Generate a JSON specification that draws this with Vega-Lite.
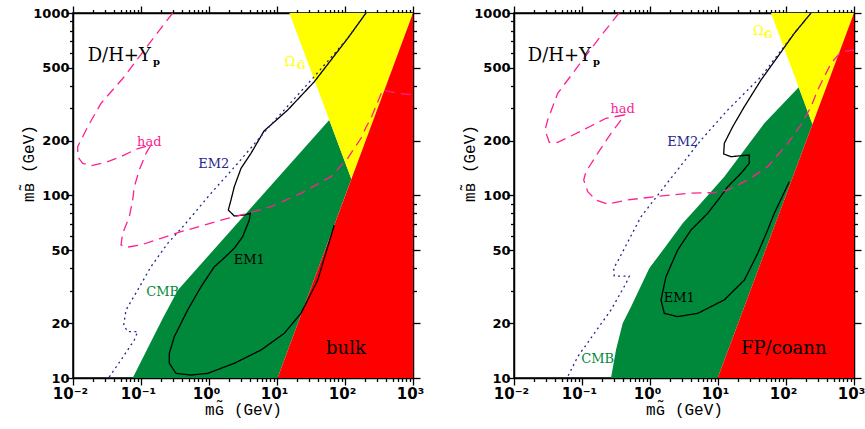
{
  "$schema": "https://vega.github.io/schema/vega-lite/v6.json",
  "background": "white",
  "padding": {"left": 20, "top": 4, "right": 0, "bottom": 0},
  "config": {
    "view": {"stroke": "black", "strokeWidth": 1.5},
    "axis": {
      "grid": false, "domainColor": "black", "domainWidth": 1.5, "zindex": 1,
      "tickColor": "black", "tickWidth": 1.3,
      "labelFont": "DejaVu Sans", "labelFontSize": 13, "labelFontWeight": "bold", "labelColor": "black",
      "labelOverlap": false, "labelFlush": false,
      "titleFont": "Liberation Mono", "titleFontSize": 16, "titleFontWeight": "normal", "titleColor": "black"
    }
  },
  "datasets": {
    "regions": [
      {"p":"L","r":"CMB","i":1,"x":0.0755,"y":10},
      {"p":"L","r":"CMB","i":2,"x":0.2085,"y":21.2},
      {"p":"L","r":"CMB","i":3,"x":0.347,"y":30.3},
      {"p":"L","r":"CMB","i":4,"x":58.7,"y":259},
      {"p":"L","r":"CMB","i":5,"x":124,"y":123},
      {"p":"L","r":"CMB","i":6,"x":10.2,"y":10},
      {"p":"L","r":"Omega","i":1,"x":15.2,"y":1000},
      {"p":"L","r":"Omega","i":2,"x":1000,"y":1000},
      {"p":"L","r":"Omega","i":3,"x":124,"y":123},
      {"p":"L","r":"bulk","i":1,"x":10.2,"y":10},
      {"p":"L","r":"bulk","i":2,"x":1000,"y":1000},
      {"p":"L","r":"bulk","i":3,"x":1000,"y":10},
      {"p":"R","r":"CMB","i":1,"x":0.267,"y":10},
      {"p":"R","r":"CMB","i":2,"x":0.316,"y":14.23},
      {"p":"R","r":"CMB","i":3,"x":0.397,"y":19.93},
      {"p":"R","r":"CMB","i":4,"x":0.526,"y":24.6},
      {"p":"R","r":"CMB","i":5,"x":0.977,"y":39.9},
      {"p":"R","r":"CMB","i":6,"x":1.623,"y":51.4},
      {"p":"R","r":"CMB","i":7,"x":3.03,"y":70.4},
      {"p":"R","r":"CMB","i":8,"x":5.03,"y":86.8},
      {"p":"R","r":"CMB","i":9,"x":12.38,"y":126.8},
      {"p":"R","r":"CMB","i":10,"x":48,"y":248.7},
      {"p":"R","r":"CMB","i":11,"x":153.8,"y":391.6},
      {"p":"R","r":"CMB","i":12,"x":245,"y":246},
      {"p":"R","r":"CMB","i":13,"x":9.9,"y":10},
      {"p":"R","r":"Omega","i":1,"x":60.2,"y":1000},
      {"p":"R","r":"Omega","i":2,"x":1000,"y":1000},
      {"p":"R","r":"Omega","i":3,"x":245,"y":246},
      {"p":"R","r":"FP/coann","i":1,"x":9.9,"y":10},
      {"p":"R","r":"FP/coann","i":2,"x":1000,"y":1000},
      {"p":"R","r":"FP/coann","i":3,"x":1000,"y":10}
    ],
    "curves": [
      {"p":"L","c":"EM1","i":1,"x":203.7,"y":1000},
      {"p":"L","c":"EM1","i":2,"x":109.6,"y":726.6},
      {"p":"L","c":"EM1","i":3,"x":35.4,"y":420.3},
      {"p":"L","c":"EM1","i":4,"x":14.36,"y":294},
      {"p":"L","c":"EM1","i":5,"x":6.44,"y":225.6},
      {"p":"L","c":"EM1","i":6,"x":4.146,"y":170.3},
      {"p":"L","c":"EM1","i":7,"x":2.956,"y":140.9},
      {"p":"L","c":"EM1","i":8,"x":2.355,"y":111.7},
      {"p":"L","c":"EM1","i":9,"x":2.106,"y":94.5},
      {"p":"L","c":"EM1","i":10,"x":1.923,"y":83.3},
      {"p":"L","c":"EM1","i":11,"x":2.355,"y":77.2},
      {"p":"L","c":"EM1","i":12,"x":3.304,"y":78.2},
      {"p":"L","c":"EM1","i":13,"x":4.05,"y":79.9},
      {"p":"L","c":"EM1","i":14,"x":3.915,"y":73.4},
      {"p":"L","c":"EM1","i":15,"x":3.13,"y":59.5},
      {"p":"L","c":"EM1","i":16,"x":2.355,"y":51.4},
      {"p":"L","c":"EM1","i":17,"x":1.591,"y":44.7},
      {"p":"L","c":"EM1","i":18,"x":1.197,"y":40.7},
      {"p":"L","c":"EM1","i":19,"x":0.762,"y":31.6},
      {"p":"L","c":"EM1","i":20,"x":0.486,"y":23.6},
      {"p":"L","c":"EM1","i":21,"x":0.309,"y":16.84},
      {"p":"L","c":"EM1","i":22,"x":0.2606,"y":13.65},
      {"p":"L","c":"EM1","i":23,"x":0.2606,"y":12.04},
      {"p":"L","c":"EM1","i":24,"x":0.327,"y":10.6},
      {"p":"L","c":"EM1","i":25,"x":0.543,"y":10.38},
      {"p":"L","c":"EM1","i":26,"x":0.957,"y":10.6},
      {"p":"L","c":"EM1","i":27,"x":2.355,"y":12.04},
      {"p":"L","c":"EM1","i":28,"x":5.817,"y":14.23},
      {"p":"L","c":"EM1","i":29,"x":12.8,"y":17.58},
      {"p":"L","c":"EM1","i":30,"x":22.5,"y":22.6},
      {"p":"L","c":"EM1","i":31,"x":39.7,"y":34.4},
      {"p":"L","c":"EM1","i":32,"x":69.6,"y":68.9},
      {"p":"L","c":"EM2","i":1,"x":203.7,"y":1000},
      {"p":"L","c":"EM2","i":2,"x":109.6,"y":726.6},
      {"p":"L","c":"EM2","i":3,"x":33.5,"y":438.7},
      {"p":"L","c":"EM2","i":4,"x":7.3,"y":233.4},
      {"p":"L","c":"EM2","i":5,"x":2.642,"y":150.1},
      {"p":"L","c":"EM2","i":6,"x":1.07,"y":102.8},
      {"p":"L","c":"EM2","i":7,"x":0.4335,"y":68.9},
      {"p":"L","c":"EM2","i":8,"x":0.247,"y":54.7},
      {"p":"L","c":"EM2","i":9,"x":0.14,"y":40.7},
      {"p":"L","c":"EM2","i":10,"x":0.0894,"y":30.35},
      {"p":"L","c":"EM2","i":11,"x":0.0602,"y":23.6},
      {"p":"L","c":"EM2","i":12,"x":0.0557,"y":19.52},
      {"p":"L","c":"EM2","i":13,"x":0.0637,"y":17.94},
      {"p":"L","c":"EM2","i":14,"x":0.0894,"y":17.94},
      {"p":"L","c":"EM2","i":15,"x":0.0797,"y":16.15},
      {"p":"L","c":"EM2","i":16,"x":0.0508,"y":12.55},
      {"p":"L","c":"EM2","i":17,"x":0.0333,"y":10},
      {"p":"L","c":"had","i":1,"x":0.2924,"y":1000},
      {"p":"L","c":"had","i":2,"x":0.1118,"y":627},
      {"p":"L","c":"had","i":3,"x":0.0568,"y":447.7},
      {"p":"L","c":"had","i":4,"x":0.0258,"y":320},
      {"p":"L","c":"had","i":5,"x":0.01645,"y":238.2},
      {"p":"L","c":"had","i":6,"x":0.01173,"y":185.1},
      {"p":"L","c":"had","i":7,"x":0.01173,"y":163.2},
      {"p":"L","c":"had","i":8,"x":0.0139,"y":150.1},
      {"p":"L","c":"had","i":9,"x":0.0184,"y":145.7},
      {"p":"L","c":"had","i":10,"x":0.0306,"y":152.1},
      {"p":"L","c":"had","i":11,"x":0.0508,"y":163.2},
      {"p":"L","c":"had","i":12,"x":0.0844,"y":179.1},
      {"p":"L","c":"had","i":13,"x":0.14,"y":189.1},
      {"p":"L","c":"had","i":14,"x":0.1184,"y":170.3},
      {"p":"L","c":"had","i":15,"x":0.0944,"y":137.9},
      {"p":"L","c":"had","i":16,"x":0.0797,"y":111.7},
      {"p":"L","c":"had","i":17,"x":0.0755,"y":94.5},
      {"p":"L","c":"had","i":18,"x":0.0673,"y":76.5},
      {"p":"L","c":"had","i":19,"x":0.0538,"y":62.1},
      {"p":"L","c":"had","i":20,"x":0.0508,"y":53.6},
      {"p":"L","c":"had","i":21,"x":0.0602,"y":52},
      {"p":"L","c":"had","i":22,"x":0.1,"y":53.6},
      {"p":"L","c":"had","i":23,"x":0.1968,"y":58.3},
      {"p":"L","c":"had","i":24,"x":0.3873,"y":63.3},
      {"p":"L","c":"had","i":25,"x":0.853,"y":68.9},
      {"p":"L","c":"had","i":26,"x":1.884,"y":75},
      {"p":"L","c":"had","i":27,"x":3.71,"y":79.9},
      {"p":"L","c":"had","i":28,"x":8.16,"y":86.8},
      {"p":"L","c":"had","i":29,"x":22.5,"y":102.8},
      {"p":"L","c":"had","i":30,"x":62.2,"y":126.8},
      {"p":"L","c":"had","i":31,"x":109.6,"y":159.9},
      {"p":"L","c":"had","i":32,"x":137,"y":181.4},
      {"p":"L","c":"had","i":33,"x":171.9,"y":205.8},
      {"p":"L","c":"had","i":34,"x":203.7,"y":236.4},
      {"p":"L","c":"had","i":35,"x":241.2,"y":264.9},
      {"p":"L","c":"had","i":36,"x":358.2,"y":378.5},
      {"p":"L","c":"had","i":37,"x":562,"y":364.5},
      {"p":"L","c":"had","i":38,"x":1000,"y":355.5},
      {"p":"R","c":"EM1","i":1,"x":233.3,"y":1000},
      {"p":"R","c":"EM1","i":2,"x":132.5,"y":774},
      {"p":"R","c":"EM1","i":3,"x":75.5,"y":576},
      {"p":"R","c":"EM1","i":4,"x":42.9,"y":429.5},
      {"p":"R","c":"EM1","i":5,"x":24.4,"y":306.7},
      {"p":"R","c":"EM1","i":6,"x":16.45,"y":238.2},
      {"p":"R","c":"EM1","i":7,"x":12.38,"y":193.2},
      {"p":"R","c":"EM1","i":8,"x":12.13,"y":168.8},
      {"p":"R","c":"EM1","i":9,"x":15.53,"y":163.2},
      {"p":"R","c":"EM1","i":10,"x":28.8,"y":166.7},
      {"p":"R","c":"EM1","i":11,"x":28.8,"y":150.1},
      {"p":"R","c":"EM1","i":12,"x":21.8,"y":132.4},
      {"p":"R","c":"EM1","i":13,"x":13.89,"y":111.7},
      {"p":"R","c":"EM1","i":14,"x":10.45,"y":96.5},
      {"p":"R","c":"EM1","i":15,"x":7.06,"y":79.9},
      {"p":"R","c":"EM1","i":16,"x":4.01,"y":64.7},
      {"p":"R","c":"EM1","i":17,"x":2.554,"y":50.3},
      {"p":"R","c":"EM1","i":18,"x":1.718,"y":35.9},
      {"p":"R","c":"EM1","i":19,"x":1.452,"y":26.8},
      {"p":"R","c":"EM1","i":20,"x":1.623,"y":22.6},
      {"p":"R","c":"EM1","i":21,"x":2.554,"y":21.7},
      {"p":"R","c":"EM1","i":22,"x":5.03,"y":22.6},
      {"p":"R","c":"EM1","i":23,"x":12.38,"y":26.8},
      {"p":"R","c":"EM1","i":24,"x":24.4,"y":34.4},
      {"p":"R","c":"EM1","i":25,"x":38.4,"y":48.2},
      {"p":"R","c":"EM1","i":26,"x":53.8,"y":64.7},
      {"p":"R","c":"EM1","i":27,"x":67.3,"y":79.9},
      {"p":"R","c":"EM1","i":28,"x":111.9,"y":119},
      {"p":"R","c":"EM2","i":1,"x":233.3,"y":1000},
      {"p":"R","c":"EM2","i":2,"x":132.5,"y":774},
      {"p":"R","c":"EM2","i":3,"x":89.4,"y":640.7},
      {"p":"R","c":"EM2","i":4,"x":42.9,"y":447.7},
      {"p":"R","c":"EM2","i":5,"x":13.89,"y":294},
      {"p":"R","c":"EM2","i":6,"x":5.62,"y":201.4},
      {"p":"R","c":"EM2","i":7,"x":1.623,"y":111.7},
      {"p":"R","c":"EM2","i":8,"x":0.737,"y":76.5},
      {"p":"R","c":"EM2","i":9,"x":0.3536,"y":45.3},
      {"p":"R","c":"EM2","i":10,"x":0.2924,"y":39.9},
      {"p":"R","c":"EM2","i":11,"x":0.2985,"y":36.2},
      {"p":"R","c":"EM2","i":12,"x":0.4961,"y":36.2},
      {"p":"R","c":"EM2","i":13,"x":0.4436,"y":33},
      {"p":"R","c":"EM2","i":14,"x":0.267,"y":23.6},
      {"p":"R","c":"EM2","i":15,"x":0.1518,"y":17.58},
      {"p":"R","c":"EM2","i":16,"x":0.0865,"y":13.08},
      {"p":"R","c":"EM2","i":17,"x":0.0602,"y":10},
      {"p":"R","c":"had","i":1,"x":0.35,"y":1000},
      {"p":"R","c":"had","i":2,"x":0.17,"y":711},
      {"p":"R","c":"had","i":3,"x":0.0865,"y":508},
      {"p":"R","c":"had","i":4,"x":0.0439,"y":363},
      {"p":"R","c":"had","i":5,"x":0.0313,"y":259.3},
      {"p":"R","c":"had","i":6,"x":0.0286,"y":228.5},
      {"p":"R","c":"had","i":7,"x":0.033,"y":195.6},
      {"p":"R","c":"had","i":8,"x":0.0439,"y":195.6},
      {"p":"R","c":"had","i":9,"x":0.0689,"y":211.8},
      {"p":"R","c":"had","i":10,"x":0.1355,"y":240.4},
      {"p":"R","c":"had","i":11,"x":0.2254,"y":264.9},
      {"p":"R","c":"had","i":12,"x":0.419,"y":276.1},
      {"p":"R","c":"had","i":13,"x":0.3746,"y":259.3},
      {"p":"R","c":"had","i":14,"x":0.267,"y":219.2},
      {"p":"R","c":"had","i":15,"x":0.17,"y":170.3},
      {"p":"R","c":"had","i":16,"x":0.1145,"y":135},
      {"p":"R","c":"had","i":17,"x":0.1059,"y":121.6},
      {"p":"R","c":"had","i":18,"x":0.1213,"y":104.9},
      {"p":"R","c":"had","i":19,"x":0.1607,"y":94.5},
      {"p":"R","c":"had","i":20,"x":0.2388,"y":89.8},
      {"p":"R","c":"had","i":21,"x":0.47,"y":94.5},
      {"p":"R","c":"had","i":22,"x":1.156,"y":98.5},
      {"p":"R","c":"had","i":23,"x":3.58,"y":102.8},
      {"p":"R","c":"had","i":24,"x":8.82,"y":103.8},
      {"p":"R","c":"had","i":25,"x":13.89,"y":107.2},
      {"p":"R","c":"had","i":26,"x":27.3,"y":121.6},
      {"p":"R","c":"had","i":27,"x":53.8,"y":143.8},
      {"p":"R","c":"had","i":28,"x":105.9,"y":193.2},
      {"p":"R","c":"had","i":29,"x":166.2,"y":243.4},
      {"p":"R","c":"had","i":30,"x":233.3,"y":306.7},
      {"p":"R","c":"had","i":31,"x":292.5,"y":378.5},
      {"p":"R","c":"had","i":32,"x":365.9,"y":447.7},
      {"p":"R","c":"had","i":33,"x":459,"y":530},
      {"p":"R","c":"had","i":34,"x":644,"y":611},
      {"p":"R","c":"had","i":35,"x":1000,"y":627}
    ],
    "labels": [
      {"p":"L","g":"big","c":"plain","t":"D/H+Y","x":0.01644,"y":547},
      {"p":"L","g":"big","c":"plain","t":"bulk","x":52.6,"y":13.54},
      {"p":"L","g":"small","c":"had","t":"had","x":0.1324,"y":195.6},
      {"p":"L","g":"small","c":"EM2","t":"EM2","x":1.172,"y":148.8},
      {"p":"L","g":"small","c":"EM1","t":"EM1","x":3.915,"y":44.3},
      {"p":"L","g":"small","c":"CMB","t":"CMB","x":0.2085,"y":29.7},
      {"p":"L","g":"small","c":"Omega","t":"Ω","x":15.5,"y":539},
      {"p":"L","g":"sub","c":"plain","t":"p","x":0.15,"y":518.9},
      {"p":"L","g":"sub","c":"Omega","t":"G̃","x":19.7,"y":493.5},
      {"p":"R","g":"big","c":"plain","t":"D/H+Y","x":0.0159,"y":547},
      {"p":"R","g":"big","c":"plain","t":"FP/coann","x":21.8,"y":13.54},
      {"p":"R","g":"small","c":"had","t":"had","x":0.397,"y":296.7},
      {"p":"R","g":"small","c":"EM2","t":"EM2","x":3.027,"y":197.1},
      {"p":"R","g":"small","c":"EM1","t":"EM1","x":2.698,"y":27.3},
      {"p":"R","g":"small","c":"CMB","t":"CMB","x":0.17,"y":12.66},
      {"p":"R","g":"small","c":"Omega","t":"Ω","x":39.4,"y":797},
      {"p":"R","g":"sub","c":"plain","t":"p","x":0.1453,"y":518.9},
      {"p":"R","g":"sub","c":"Omega","t":"G̃","x":47.5,"y":725}
    ]
  },
  "spacing": 101,
  "bounds": "flush",
  "hconcat": [
    {
      "width": 340,
      "height": 365,
      "resolve": {"axis": {"x": "independent", "y": "independent"}},
      "layer": [
        {
          "data": {"name": "regions"},
          "transform": [{"filter": "datum.p == 'L'"}],
          "mark": {"type": "line", "filled": true, "strokeWidth": 0},
          "encoding": {
            "x": {"field": "x", "type": "quantitative", "scale": {"type": "log", "domain": [0.01, 1000], "nice": false},
              "axis": {"orient": "bottom", "title": "mɢ̃ (GeV)", "titlePadding": 0,
                "values": [0.01,0.02,0.03,0.04,0.05,0.06,0.07,0.08,0.09,0.1,0.2,0.3,0.4,0.5,0.6,0.7,0.8,0.9,1,2,3,4,5,6,7,8,9,10,20,30,40,50,60,70,80,90,100,200,300,400,500,600,700,800,900,1000],
                "labelExpr": "abs(log(datum.value)/LN10 - round(log(datum.value)/LN10)) < 0.01 ? '10' + ['⁻²','⁻¹','⁰','¹','²','³'][round(log(datum.value)/LN10) + 2] : ''",
                "tickSize": {"condition": {"test": "abs(log(datum.value)/LN10 - round(log(datum.value)/LN10)) < 0.01", "value": 7}, "value": 3.5},
                "labelFontSize": 15, "labelPadding": 1, "labelOffset": -3}},
            "y": {"field": "y", "type": "quantitative", "scale": {"type": "log", "domain": [10, 1000], "nice": false},
              "axis": {"orient": "left", "title": "mʙ̃ (GeV)", "titlePadding": -4, "titleY": 150,
                "values": [10,20,30,40,50,60,70,80,90,100,200,300,400,500,600,700,800,900,1000],
                "labelExpr": "indexof([10,20,50,100,200,500,1000], datum.value) >= 0 ? '' + datum.value : ''",
                "tickSize": {"condition": {"test": "indexof([10,20,50,100,200,500,1000], datum.value) >= 0", "value": 7}, "value": 3.5},
                "labelPadding": -3}},
            "color": {"field": "r", "type": "nominal", "legend": null,
              "scale": {"domain": ["CMB","Omega","bulk","FP/coann","EM1","EM2","had","plain"], "range": ["#00893a","#ffff00","#ff0000","#ff0000","#000000","#26268f","#ff2090","#000000"]}},
            "order": {"field": "i", "type": "quantitative"}
          }
        },
        {
          "data": {"name": "regions"},
          "transform": [{"filter": "datum.p == 'L'"}],
          "mark": {"type": "point", "opacity": 0},
          "encoding": {
            "x": {"field": "x", "type": "quantitative", "scale": {"type": "log", "domain": [0.01, 1000], "nice": false},
              "axis": {"orient": "top", "title": null, "labels": false,
                "values": [0.01,0.02,0.03,0.04,0.05,0.06,0.07,0.08,0.09,0.1,0.2,0.3,0.4,0.5,0.6,0.7,0.8,0.9,1,2,3,4,5,6,7,8,9,10,20,30,40,50,60,70,80,90,100,200,300,400,500,600,700,800,900,1000],
                "tickSize": {"condition": {"test": "abs(log(datum.value)/LN10 - round(log(datum.value)/LN10)) < 0.01", "value": 7}, "value": 3.5}}},
            "y": {"field": "y", "type": "quantitative", "scale": {"type": "log", "domain": [10, 1000], "nice": false},
              "axis": {"orient": "right", "title": null, "labels": false,
                "values": [10,20,30,40,50,60,70,80,90,100,200,300,400,500,600,700,800,900,1000],
                "tickSize": {"condition": {"test": "indexof([10,20,50,100,200,500,1000], datum.value) >= 0", "value": 7}, "value": 3.5}}}
          }
        },
        {
          "data": {"name": "curves"},
          "transform": [{"filter": "datum.p == 'L'"}],
          "mark": {"type": "line", "strokeWidth": 1.3, "clip": true},
          "encoding": {
            "x": {"field": "x", "type": "quantitative", "scale": {"type": "log", "domain": [0.01, 1000], "nice": false}, "axis": null},
            "y": {"field": "y", "type": "quantitative", "scale": {"type": "log", "domain": [10, 1000], "nice": false}, "axis": null},
            "color": {"field": "c", "type": "nominal", "legend": null,
              "scale": {"domain": ["CMB","Omega","bulk","FP/coann","EM1","EM2","had","plain"], "range": ["#00893a","#ffff00","#ff0000","#ff0000","#000000","#26268f","#ff2090","#000000"]}},
            "strokeDash": {"field": "c", "type": "nominal", "legend": null,
              "scale": {"domain": ["EM1","EM2","had"], "range": [[1,0],[2,3.5],[10,6]]}},
            "order": {"field": "i", "type": "quantitative"}
          }
        },
        {
          "data": {"name": "labels"},
          "transform": [{"filter": "datum.p == 'L' && datum.g == 'big'"}],
          "mark": {"type": "text", "font": "DejaVu Serif", "fontSize": 18, "align": "left", "baseline": "alphabetic"},
          "encoding": {
            "x": {"field": "x", "type": "quantitative", "scale": {"type": "log", "domain": [0.01, 1000], "nice": false}, "axis": null},
            "y": {"field": "y", "type": "quantitative", "scale": {"type": "log", "domain": [10, 1000], "nice": false}, "axis": null},
            "text": {"field": "t"},
            "color": {"field": "c", "type": "nominal", "legend": null,
              "scale": {"domain": ["CMB","Omega","bulk","FP/coann","EM1","EM2","had","plain"], "range": ["#00893a","#ffff00","#ff0000","#ff0000","#000000","#26268f","#ff2090","#000000"]}}
          }
        },
        {
          "data": {"name": "labels"},
          "transform": [{"filter": "datum.p == 'L' && datum.g == 'small'"}],
          "mark": {"type": "text", "font": "DejaVu Serif", "fontSize": 13, "align": "center", "baseline": "middle"},
          "encoding": {
            "x": {"field": "x", "type": "quantitative", "scale": {"type": "log", "domain": [0.01, 1000], "nice": false}, "axis": null},
            "y": {"field": "y", "type": "quantitative", "scale": {"type": "log", "domain": [10, 1000], "nice": false}, "axis": null},
            "text": {"field": "t"},
            "color": {"field": "c", "type": "nominal", "legend": null,
              "scale": {"domain": ["CMB","Omega","bulk","FP/coann","EM1","EM2","had","plain"], "range": ["#00893a","#ffff00","#ff0000","#ff0000","#000000","#26268f","#ff2090","#000000"]}}
          }
        },
        {
          "data": {"name": "labels"},
          "transform": [{"filter": "datum.p == 'L' && datum.g == 'sub'"}],
          "mark": {"type": "text", "font": "DejaVu Serif", "fontSize": 10, "fontWeight": "bold", "align": "left", "baseline": "alphabetic"},
          "encoding": {
            "x": {"field": "x", "type": "quantitative", "scale": {"type": "log", "domain": [0.01, 1000], "nice": false}, "axis": null},
            "y": {"field": "y", "type": "quantitative", "scale": {"type": "log", "domain": [10, 1000], "nice": false}, "axis": null},
            "text": {"field": "t"},
            "color": {"field": "c", "type": "nominal", "legend": null,
              "scale": {"domain": ["CMB","Omega","bulk","FP/coann","EM1","EM2","had","plain"], "range": ["#00893a","#ffff00","#ff0000","#ff0000","#000000","#26268f","#ff2090","#000000"]}}
          }
        }
      ]
    },
    {
      "width": 340,
      "height": 365,
      "resolve": {"axis": {"x": "independent", "y": "independent"}},
      "layer": [
        {
          "data": {"name": "regions"},
          "transform": [{"filter": "datum.p == 'R'"}],
          "mark": {"type": "line", "filled": true, "strokeWidth": 0},
          "encoding": {
            "x": {"field": "x", "type": "quantitative", "scale": {"type": "log", "domain": [0.01, 1000], "nice": false},
              "axis": {"orient": "bottom", "title": "mɢ̃ (GeV)", "titlePadding": 0,
                "values": [0.01,0.02,0.03,0.04,0.05,0.06,0.07,0.08,0.09,0.1,0.2,0.3,0.4,0.5,0.6,0.7,0.8,0.9,1,2,3,4,5,6,7,8,9,10,20,30,40,50,60,70,80,90,100,200,300,400,500,600,700,800,900,1000],
                "labelExpr": "abs(log(datum.value)/LN10 - round(log(datum.value)/LN10)) < 0.01 ? '10' + ['⁻²','⁻¹','⁰','¹','²','³'][round(log(datum.value)/LN10) + 2] : ''",
                "tickSize": {"condition": {"test": "abs(log(datum.value)/LN10 - round(log(datum.value)/LN10)) < 0.01", "value": 7}, "value": 3.5},
                "labelFontSize": 15, "labelPadding": 1, "labelOffset": -3}},
            "y": {"field": "y", "type": "quantitative", "scale": {"type": "log", "domain": [10, 1000], "nice": false},
              "axis": {"orient": "left", "title": "mʙ̃ (GeV)", "titlePadding": -4, "titleY": 150,
                "values": [10,20,30,40,50,60,70,80,90,100,200,300,400,500,600,700,800,900,1000],
                "labelExpr": "indexof([10,20,50,100,200,500,1000], datum.value) >= 0 ? '' + datum.value : ''",
                "tickSize": {"condition": {"test": "indexof([10,20,50,100,200,500,1000], datum.value) >= 0", "value": 7}, "value": 3.5},
                "labelPadding": -3}},
            "color": {"field": "r", "type": "nominal", "legend": null,
              "scale": {"domain": ["CMB","Omega","bulk","FP/coann","EM1","EM2","had","plain"], "range": ["#00893a","#ffff00","#ff0000","#ff0000","#000000","#26268f","#ff2090","#000000"]}},
            "order": {"field": "i", "type": "quantitative"}
          }
        },
        {
          "data": {"name": "regions"},
          "transform": [{"filter": "datum.p == 'R'"}],
          "mark": {"type": "point", "opacity": 0},
          "encoding": {
            "x": {"field": "x", "type": "quantitative", "scale": {"type": "log", "domain": [0.01, 1000], "nice": false},
              "axis": {"orient": "top", "title": null, "labels": false,
                "values": [0.01,0.02,0.03,0.04,0.05,0.06,0.07,0.08,0.09,0.1,0.2,0.3,0.4,0.5,0.6,0.7,0.8,0.9,1,2,3,4,5,6,7,8,9,10,20,30,40,50,60,70,80,90,100,200,300,400,500,600,700,800,900,1000],
                "tickSize": {"condition": {"test": "abs(log(datum.value)/LN10 - round(log(datum.value)/LN10)) < 0.01", "value": 7}, "value": 3.5}}},
            "y": {"field": "y", "type": "quantitative", "scale": {"type": "log", "domain": [10, 1000], "nice": false},
              "axis": {"orient": "right", "title": null, "labels": false,
                "values": [10,20,30,40,50,60,70,80,90,100,200,300,400,500,600,700,800,900,1000],
                "tickSize": {"condition": {"test": "indexof([10,20,50,100,200,500,1000], datum.value) >= 0", "value": 7}, "value": 3.5}}}
          }
        },
        {
          "data": {"name": "curves"},
          "transform": [{"filter": "datum.p == 'R'"}],
          "mark": {"type": "line", "strokeWidth": 1.3, "clip": true},
          "encoding": {
            "x": {"field": "x", "type": "quantitative", "scale": {"type": "log", "domain": [0.01, 1000], "nice": false}, "axis": null},
            "y": {"field": "y", "type": "quantitative", "scale": {"type": "log", "domain": [10, 1000], "nice": false}, "axis": null},
            "color": {"field": "c", "type": "nominal", "legend": null,
              "scale": {"domain": ["CMB","Omega","bulk","FP/coann","EM1","EM2","had","plain"], "range": ["#00893a","#ffff00","#ff0000","#ff0000","#000000","#26268f","#ff2090","#000000"]}},
            "strokeDash": {"field": "c", "type": "nominal", "legend": null,
              "scale": {"domain": ["EM1","EM2","had"], "range": [[1,0],[2,3.5],[10,6]]}},
            "order": {"field": "i", "type": "quantitative"}
          }
        },
        {
          "data": {"name": "labels"},
          "transform": [{"filter": "datum.p == 'R' && datum.g == 'big'"}],
          "mark": {"type": "text", "font": "DejaVu Serif", "fontSize": 18, "align": "left", "baseline": "alphabetic"},
          "encoding": {
            "x": {"field": "x", "type": "quantitative", "scale": {"type": "log", "domain": [0.01, 1000], "nice": false}, "axis": null},
            "y": {"field": "y", "type": "quantitative", "scale": {"type": "log", "domain": [10, 1000], "nice": false}, "axis": null},
            "text": {"field": "t"},
            "color": {"field": "c", "type": "nominal", "legend": null,
              "scale": {"domain": ["CMB","Omega","bulk","FP/coann","EM1","EM2","had","plain"], "range": ["#00893a","#ffff00","#ff0000","#ff0000","#000000","#26268f","#ff2090","#000000"]}}
          }
        },
        {
          "data": {"name": "labels"},
          "transform": [{"filter": "datum.p == 'R' && datum.g == 'small'"}],
          "mark": {"type": "text", "font": "DejaVu Serif", "fontSize": 13, "align": "center", "baseline": "middle"},
          "encoding": {
            "x": {"field": "x", "type": "quantitative", "scale": {"type": "log", "domain": [0.01, 1000], "nice": false}, "axis": null},
            "y": {"field": "y", "type": "quantitative", "scale": {"type": "log", "domain": [10, 1000], "nice": false}, "axis": null},
            "text": {"field": "t"},
            "color": {"field": "c", "type": "nominal", "legend": null,
              "scale": {"domain": ["CMB","Omega","bulk","FP/coann","EM1","EM2","had","plain"], "range": ["#00893a","#ffff00","#ff0000","#ff0000","#000000","#26268f","#ff2090","#000000"]}}
          }
        },
        {
          "data": {"name": "labels"},
          "transform": [{"filter": "datum.p == 'R' && datum.g == 'sub'"}],
          "mark": {"type": "text", "font": "DejaVu Serif", "fontSize": 10, "fontWeight": "bold", "align": "left", "baseline": "alphabetic"},
          "encoding": {
            "x": {"field": "x", "type": "quantitative", "scale": {"type": "log", "domain": [0.01, 1000], "nice": false}, "axis": null},
            "y": {"field": "y", "type": "quantitative", "scale": {"type": "log", "domain": [10, 1000], "nice": false}, "axis": null},
            "text": {"field": "t"},
            "color": {"field": "c", "type": "nominal", "legend": null,
              "scale": {"domain": ["CMB","Omega","bulk","FP/coann","EM1","EM2","had","plain"], "range": ["#00893a","#ffff00","#ff0000","#ff0000","#000000","#26268f","#ff2090","#000000"]}}
          }
        }
      ]
    }
  ]
}
